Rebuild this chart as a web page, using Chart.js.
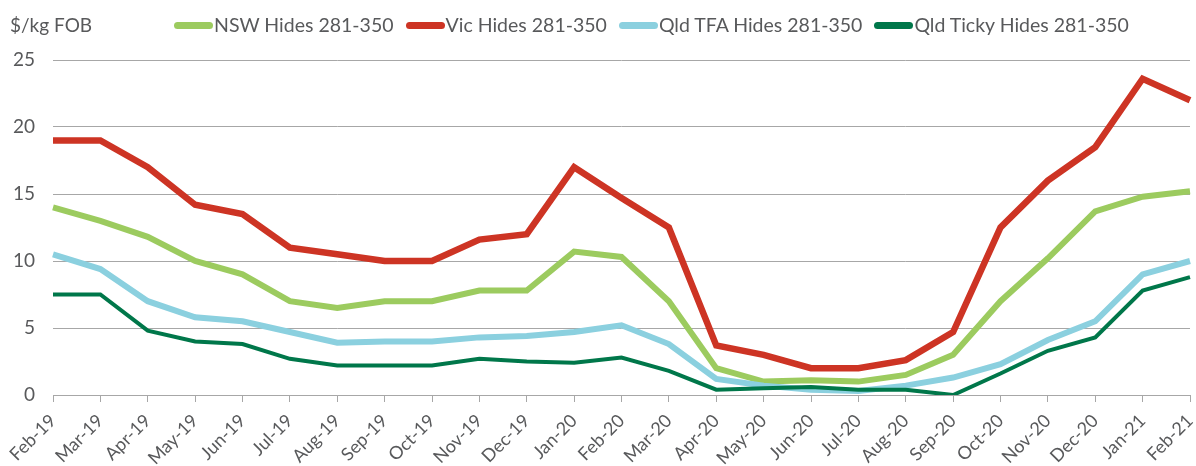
<!DOCTYPE html>
<html>
<head>
<meta charset="utf-8">
<script src="https://cdn.jsdelivr.net/npm/chart.js@4"></script>
<style>
  html, body { margin: 0; padding: 0; background: #fff; }
  body { width: 1196px; height: 466px; position: relative; overflow: hidden; font-family: Lato, "Noto Sans", sans-serif; color: #58595b; }
  #unit { position: absolute; left: 10px; top: 14px; font-size: 19px; line-height: 22px; }
  #legend { position: absolute; left: 174px; top: 14px; display: flex; gap: 12px; font-size: 19.5px; line-height: 22px; }
  #legend .item { display: flex; align-items: center; }
  #legend .sw { width: 39px; height: 7px; border-radius: 3.5px; margin-right: 1px; }
  .wrap { position: absolute; left: 0; top: 0; width: 1196px; height: 466px; }
</style>
</head>
<body>
<div class="wrap"><canvas id="hideChart"></canvas></div>
<div id="unit">$/kg FOB</div>
<div id="legend"></div>
<script>
// ==========================
// DATA
// ==========================
const months = ["Feb-19", "Mar-19", "Apr-19", "May-19", "Jun-19", "Jul-19", "Aug-19", "Sep-19", "Oct-19", "Nov-19", "Dec-19", "Jan-20",
    "Feb-20", "Mar-20", "Apr-20", "May-20", "Jun-20", "Jul-20", "Aug-20", "Sep-20", "Oct-20", "Nov-20", "Dec-20", "Jan-21", "Feb-21"];

const nswHides = [14, 13, 11.8, 10, 9, 7, 6.5, 7, 7, 7.8, 7.8, 10.7, 10.3, 7, 2, 1, 1.1, 1, 1.5, 3, 7, 10.2, 13.7, 14.8, 15.2];
const vicHides = [19, 19, 17, 14.2, 13.5, 11, 10.5, 10, 10, 11.6, 12, 17, 14.7, 12.5, 3.7, 3, 2, 2, 2.6, 4.7, 12.5, 16, 18.5, 23.6, 22];
const qldTfa = [10.5, 9.4, 7, 5.8, 5.5, 4.7, 3.9, 4, 4, 4.3, 4.4, 4.7, 5.2, 3.8, 1.2, 0.7, 0.4, 0.3, 0.7, 1.3, 2.3, 4.1, 5.5, 9, 10];
const qldTicky = [7.5, 7.5, 4.8, 4, 3.8, 2.7, 2.2, 2.2, 2.2, 2.7, 2.5, 2.4, 2.8, 1.8, 0.4, 0.5, 0.6, 0.4, 0.4, 0, 1.6, 3.3, 4.3, 7.8, 8.8];

const yTicks = [0, 5, 10, 15, 20, 25];

const series = [
    { label: "NSW Hides 281-350", data: nswHides, color: "#9ccb5f", width: 6, order: 4 },
    { label: "Vic Hides 281-350", data: vicHides, color: "#cd3424", width: 6.5, order: 3 },
    { label: "Qld TFA Hides 281-350", data: qldTfa, color: "#8bd0df", width: 6, order: 2 },
    { label: "Qld Ticky Hides 281-350", data: qldTicky, color: "#00774a", width: 4, order: 1 }
];

// ==========================
// LEGEND
// ==========================
const legend = document.getElementById("legend");
series.forEach(s => {
    legend.innerHTML += `
      <div class="item">
        <span class="sw" style="background:${s.color}"></span>
        <span>${s.label}</span>
      </div>`;
});

// ==========================
// CHART
// ==========================
const textColor = "#58595b";
const gridColor = "#a7a7a7";

new Chart(document.getElementById("hideChart"), {
    type: "line",
    data: {
        labels: months,
        datasets: series.map(s => ({
            label: s.label,
            data: s.data,
            borderColor: s.color,
            backgroundColor: s.color,
            borderWidth: s.width,
            pointRadius: 0,
            tension: 0,
            order: s.order
        }))
    },
    options: {
        responsive: true,
        maintainAspectRatio: false,
        animation: false,
        layout: {
            autoPadding: false,
            padding: { top: 60, right: 6, left: 0, bottom: 0 }
        },
        plugins: {
            legend: { display: false },
            tooltip: { enabled: false }
        },
        scales: {
            x: {
                afterFit: s => {
                    s.height = 71;
                    s.paddingLeft = 0;
                    s.paddingRight = 0;
                },
                grid: {
                    drawOnChartArea: false,
                    drawTicks: true,
                    tickLength: 7,
                    color: gridColor
                },
                border: { color: gridColor, width: 1 },
                ticks: {
                    autoSkip: false,
                    minRotation: 45,
                    maxRotation: 45,
                    padding: 8,
                    color: textColor,
                    font: { family: "Lato", size: 18 }
                }
            },
            y: {
                min: 0,
                max: 25,
                afterFit: s => { s.width = 53; },
                afterBuildTicks: s => { s.ticks = yTicks.map(v => ({ value: v })); },
                grid: { color: gridColor, drawTicks: false },
                border: { display: false },
                ticks: {
                    padding: 18,
                    color: textColor,
                    font: { family: "Lato", size: 19 }
                }
            }
        }
    }
});
</script>
</body>
</html>
